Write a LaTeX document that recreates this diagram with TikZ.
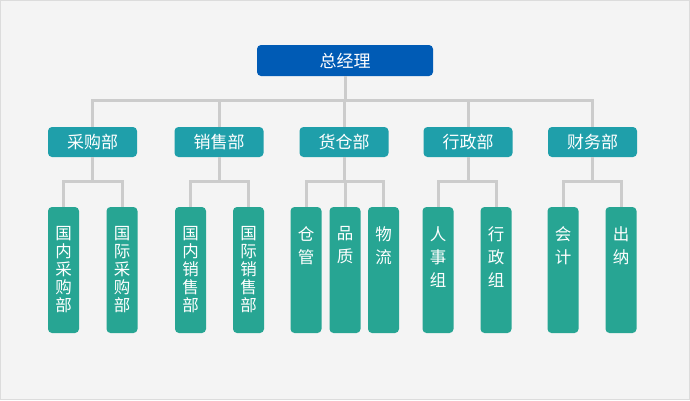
\documentclass[tikz,border=0pt]{standalone}
\usepackage{fontspec}
\newfontfamily\cjk{Noto Sans CJK SC}
\definecolor{bgc}{HTML}{F4F4F4}
\definecolor{framec}{HTML}{DCDCDC}
\definecolor{topc}{HTML}{005BB5}
\definecolor{midc}{HTML}{1F9FAA}
\definecolor{leafc}{HTML}{27A593}
\definecolor{linec}{HTML}{CCCCCC}
\tikzset{
  topbox/.style={fill=topc, rounded corners=4pt, minimum width=176pt, minimum height=31pt, inner sep=0pt, text=white, font={\cjk\fontsize{17}{19}\selectfont}},
  midbox/.style={fill=midc, rounded corners=4pt, minimum width=89pt, minimum height=30pt, inner sep=0pt, text=white, font={\cjk\fontsize{17}{19}\selectfont}},
  leafbox/.style={fill=leafc, rounded corners=4pt, minimum width=31pt, minimum height=126pt, inner sep=0pt},
  leaftxt/.style={anchor=north, inner sep=0pt, align=center, text=white, font={\cjk\fontsize{16.5}{#1}\selectfont}},
  conn/.style={draw=linec, line width=3pt, line join=miter}
}
\begin{document}
\begin{tikzpicture}[x=1pt,y=-1pt]
\useasboundingbox (0,0) rectangle (690,400);
\fill[bgc] (0,0) rectangle (690,400);
\draw[framec, line width=1pt] (0.5,0.5) rectangle (689.5,399.5);

\node[topbox] (top) at (345,60.5) {总经理};

\node[midbox] (cg) at (92.5,142) {采购部};
\node[midbox] (xs) at (219,142) {销售部};
\node[midbox] (hc) at (344,142) {货仓部};
\node[midbox] (xz) at (468,142) {行政部};
\node[midbox] (cw) at (592.5,142) {财务部};

\coordinate (bus) at (0,100);
\coordinate (sub) at (0,181.5);

% leaves
\node[leafbox] (l1) at (63.5,270) {};
\node[leafbox] (l2) at (122,270) {};
\node[leafbox] (l3) at (190.5,270) {};
\node[leafbox] (l4) at (248.5,270) {};
\node[leafbox] (l5) at (306,270) {};
\node[leafbox] (l6) at (345,270) {};
\node[leafbox] (l7) at (383.5,270) {};
\node[leafbox] (l8) at (438,270) {};
\node[leafbox] (l9) at (496,270) {};
\node[leafbox] (l10) at (563,270) {};
\node[leafbox] (l11) at (621,270) {};

\node[leaftxt=18pt] (t1) at (63.5,226) {国\\内\\采\\购\\部};
\node[leaftxt=18pt] (t2) at (122,226) {国\\际\\采\\购\\部};
\node[leaftxt=18pt] (t3) at (190.5,226) {国\\内\\销\\售\\部};
\node[leaftxt=18pt] (t4) at (248.5,226) {国\\际\\销\\售\\部};
\node[leaftxt=23pt] (t5) at (306,226) {仓\\管};
\node[leaftxt=23pt] (t6) at (345,226) {品\\质};
\node[leaftxt=23pt] (t7) at (383.5,226) {物\\流};
\node[leaftxt=23pt] (t8) at (438,226) {人\\事\\组};
\node[leaftxt=23pt] (t9) at (496,226) {行\\政\\组};
\node[leaftxt=23pt] (t10) at (563,226) {会\\计};
\node[leaftxt=23pt] (t11) at (621,226) {出\\纳};

% top connectors
\draw[conn] (top.south) -- (top.south |- bus);
\draw[conn] (cg.north) -- (cg.north |- bus) -- (cw.north |- bus) -- (cw.north);
\draw[conn] (xs.north) -- (xs.north |- bus);
\draw[conn] (hc.north) -- (hc.north |- bus);
\draw[conn] (xz.north) -- (xz.north |- bus);

% group connectors
\draw[conn] (cg.south) -- (cg.south |- sub);
\draw[conn] (l1.north) -- (l1.north |- sub) -- (l2.north |- sub) -- (l2.north);
\draw[conn] (xs.south) -- (xs.south |- sub);
\draw[conn] (l3.north) -- (l3.north |- sub) -- (l4.north |- sub) -- (l4.north);
\draw[conn] (hc.south) -- (hc.south |- sub);
\draw[conn] (l5.north) -- (l5.north |- sub) -- (l7.north |- sub) -- (l7.north);
\draw[conn] (l6.north) -- (l6.north |- sub);
\draw[conn] (xz.south) -- (xz.south |- sub);
\draw[conn] (l8.north) -- (l8.north |- sub) -- (l9.north |- sub) -- (l9.north);
\draw[conn] (cw.south) -- (cw.south |- sub);
\draw[conn] (l10.north) -- (l10.north |- sub) -- (l11.north |- sub) -- (l11.north);
\end{tikzpicture}
\end{document}
